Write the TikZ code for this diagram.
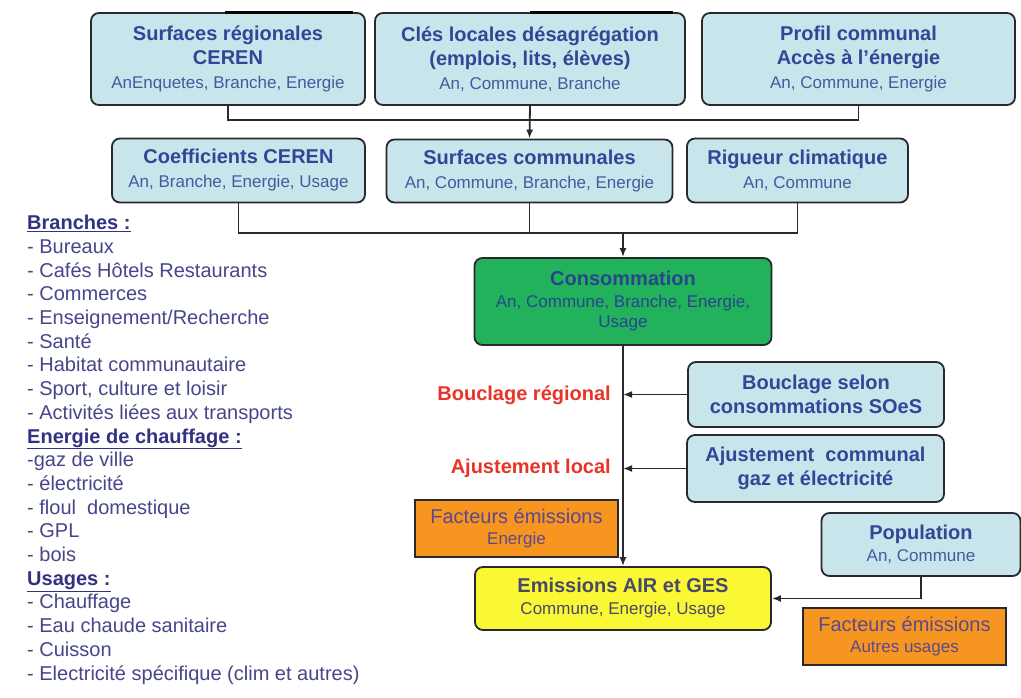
\documentclass[tikz,border=0pt]{standalone}
\usepackage{fontspec}
\setmainfont{Liberation Sans}
\usetikzlibrary{arrows.meta}

\definecolor{boxfill}{RGB}{200,229,235}
\definecolor{edge}{RGB}{40,40,45}
\definecolor{titlecol}{RGB}{52,68,150}
\definecolor{subcol}{RGB}{72,88,160}
\definecolor{greenfill}{RGB}{34,178,92}
\definecolor{greentext}{RGB}{40,70,140}
\definecolor{labelred}{RGB}{232,52,40}
\definecolor{orangefill}{RGB}{246,150,32}
\definecolor{orangetext}{RGB}{92,72,140}
\definecolor{yellowfill}{RGB}{250,248,52}
\definecolor{yellowtext}{RGB}{72,72,105}
\definecolor{listcol}{RGB}{70,70,140}
\definecolor{headcol}{RGB}{50,50,130}

\newcommand{\subl}[1]{{\fontsize{17}{20}\selectfont\mdseries\color{subcol}#1}}
\newcommand{\subo}[1]{{\fontsize{17}{20}\selectfont\mdseries #1}}
\newcommand{\hd}[1]{{\bfseries\color{headcol}\underline{#1}}}

\tikzset{
  base/.style={draw=edge, line width=1.8pt, align=center, inner sep=2pt,
    font=\fontsize{20}{24}\selectfont\bfseries},
  bluebox/.style={base, rounded corners=8pt, fill=boxfill, text=titlecol},
  greenbox/.style={base, rounded corners=8pt, fill=greenfill, text=greentext},
  orangebox/.style={base, fill=orangefill, text=orangetext,
    font=\fontsize{20}{24}\selectfont},
  yellowbox/.style={base, rounded corners=8pt, fill=yellowfill, text=yellowtext},
  redlabel/.style={text=labelred, font=\fontsize{20}{24}\selectfont\bfseries, inner sep=0pt},
  link/.style={draw=edge, line width=1.8pt},
  arr/.style={link, -{Latex[length=9pt,width=7pt]}},
  listtext/.style={text=listcol, align=left, inner sep=0pt,
    font=\fontsize{20}{23.7}\selectfont},
}

\begin{document}
\begin{tikzpicture}[x=1pt,y=-1pt]
\fill[white] (0,0) rectangle (1021,697);
\useasboundingbox (0,0) rectangle (1021,697);

% first row of inputs
\node[bluebox, minimum width=274, minimum height=92] (surfreg) at (228,59)
  {Surfaces régionales\\CEREN\\\subl{AnEnquetes, Branche, Energie}};
\node[bluebox, minimum width=310, minimum height=92] (cles) at (530,59)
  {Clés locales désagrégation\\(emplois, lits, élèves)\\\subl{An, Commune, Branche}};
\node[bluebox, minimum width=313, minimum height=92] (profil) at (858.5,59)
  {Profil communal\\Accès à l'énergie\\\subl{An, Commune, Energie}};

% heavy strokes along the upper edge
\draw[line width=3pt] (225,12.5) -- (353,12.5);
\draw[line width=3pt] (530,12.5) -- (673,12.5);

% second row
\node[bluebox, minimum width=253, minimum height=64] (coef) at (238.5,170.5)
  {Coefficients CEREN\\\subl{An, Branche, Energie, Usage}};
\node[bluebox, minimum width=286, minimum height=63] (surfcom) at (529.5,171)
  {Surfaces communales\\\subl{An, Commune, Branche, Energie}};
\node[bluebox, minimum width=221, minimum height=64] (rigueur) at (797.5,170.5)
  {Rigueur climatique\\\subl{An, Commune}};

% consumption
\node[greenbox, minimum width=297, minimum height=87] (cons) at (623,301.5)
  {Consommation\\[-2pt]{\fontsize{17}{20}\selectfont\mdseries An, Commune, Branche, Energie,}\\[-4pt]{\fontsize{17}{20}\selectfont\mdseries Usage}};

% adjustments
\node[bluebox, minimum width=256, minimum height=65] (boucl) at (816,394.5)
  {Bouclage selon\\consommations SOeS};
\node[bluebox, minimum width=257, minimum height=67] (ajust) at (815.5,468.5)
  {Ajustement\ \ communal\\gaz et électricité};

% emissions
\node[orangebox, minimum width=203, minimum height=57] (fenerg) at (516.5,528.5)
  {Facteurs émissions\\[-3pt]\subo{Energie}};
\node[yellowbox, minimum width=296, minimum height=63] (emis) at (623,598.5)
  {Emissions AIR et GES\\[-2pt]\subo{Commune, Energie, Usage}};
\node[bluebox, minimum width=199, minimum height=63] (pop) at (921,544.5)
  {Population\\[-2pt]\subl{An, Commune}};
\node[orangebox, minimum width=203, minimum height=57] (fautres) at (904.5,636.5)
  {Facteurs émissions\\[-3pt]\subo{Autres usages}};

% side labels
\node[redlabel, anchor=east] (lbouc) at (611,395) {Bouclage régional};
\node[redlabel, anchor=east] (lajus) at (611,468) {Ajustement local};

% connectors
\coordinate (bus1) at (530,120);
\coordinate (bus2) at (623,233);
\draw[link] (surfreg.south) |- (bus1) -| (profil.south);
\draw[arr] (cles.south) -- (surfcom.north);
\draw[link] (coef.south) |- (bus2) -| (rigueur.south);
\draw[link] (surfcom.south) -- (surfcom.south |- bus2);
\draw[arr] (bus2) -- (cons.north);
\draw[arr] (cons.south) -- (emis.north);
\draw[arr] (boucl.west) -- (cons.south |- boucl.west);
\draw[arr] (ajust.west) -- (cons.south |- ajust.west);
\draw[arr] (pop.south) |- (emis.east);

% legend of categories
\node[listtext, anchor=north west] (legend) at (27,215)
  {\hd{Branches :}\\
   - Bureaux\\
   - Cafés Hôtels Restaurants\\
   - Commerces\\
   - Enseignement/Recherche\\
   - Santé\\
   - Habitat communautaire\\
   - Sport, culture et loisir\\
   - Activités liées aux transports\\
   \hd{Energie de chauffage :}\\
   -gaz de ville\\
   - électricité\\
   - floul\ \ domestique\\
   - GPL\\
   - bois\\
   \hd{Usages :}\\
   - Chauffage\\
   - Eau chaude sanitaire\\
   - Cuisson\\
   - Electricité spécifique (clim et autres)};
\end{tikzpicture}
\end{document}
